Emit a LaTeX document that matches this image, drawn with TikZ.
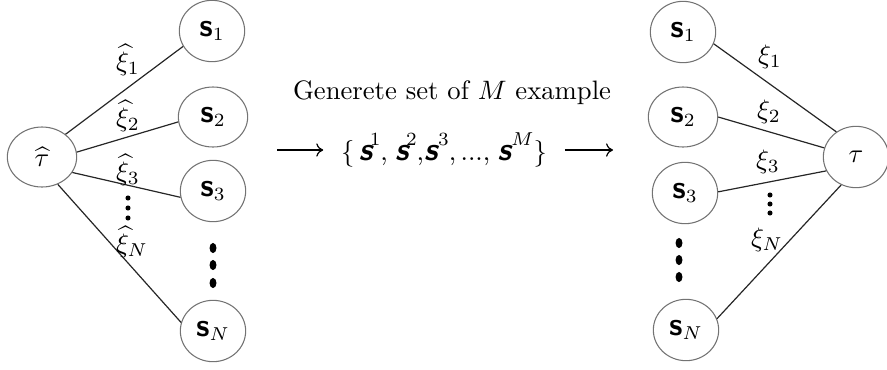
\documentclass[tikz,border=0pt]{standalone}
\usetikzlibrary{shapes.geometric,arrows.meta}
\newcommand{\sfs}{{\large\textsf{\textbf{s}}}}
\newcommand{\sfsi}{{\large\textsf{\bfseries\itshape s}}}
\newcommand{\ssup}[2]{\sfsi\kern#1\raisebox{5.6pt}{\scriptsize#2}}
\begin{document}
\begin{tikzpicture}[x=0.375pt,y=-0.375pt,
  st/.style={ellipse, draw=black!55, line width=0.4pt, minimum width=24.5pt, minimum height=23pt, inner sep=0pt},
  edge/.style={draw=black!85, line width=0.45pt},
  lbl/.style={inner sep=0pt},
  arr/.style={draw=black, line width=0.45pt, -{To[length=2.6pt,width=5pt]}},
  bigdot/.style={fill=black, x radius=1.3pt, y radius=1.9pt},
]
\useasboundingbox (0,0) rectangle (887,369);
% left side
\node[st, minimum width=26pt, minimum height=22.5pt] (th) at (42,157) {$\widehat\tau$};
\node[st] (a1) at (212,31) {\sfs$_1$};
\node[st, minimum width=26pt, minimum height=22.5pt] (a2) at (213,117) {\sfs$_2$};
\node[st] (a3) at (213,191) {\sfs$_3$};
\node[st] (aN) at (213,331) {\sfs$_N$};
\draw[edge] (th.44) -- (a1.208);
\draw[edge] (th.8) -- (a2.188);
\draw[edge] (th.-27) -- (a3.191);
\draw[edge] (th.-60) -- (aN.165);
\node[lbl] (lx1) at (128,60) {$\widehat\xi_1$};
\node[lbl] (lx2) at (128,116) {$\widehat\xi_2$};
\node[lbl] (lx3) at (128,170) {$\widehat\xi_3$};
\node[lbl] (lxN) at (132,242) {$\widehat\xi_N$};
\foreach \yy in {198,208,218} \fill (128,\yy) circle[radius=0.95pt];
\foreach \yy in {248,265,283} \fill[bigdot] (213,\yy) ellipse[];
% middle
\node[lbl] (title) at (452,93) {Generete set of $M$ example};
\node[inner xsep=6.5pt, inner ysep=0pt] (set) at (444,150)
  {$\{$\,\ssup{-1.6pt}{1},\;\ssup{-1.6pt}{2},\ssup{-0.4pt}{3},\,...,\;\ssup{-0.6pt}{$M$}$\}$};
\coordinate (l0) at (277,150);
\coordinate (r0) at (613,150);
\draw[arr] (l0) -- (set.west);
\draw[arr] (set.east) -- (r0);
% right side
\node[st] (tr) at (856,157) {$\tau$};
\node[st] (b1) at (683,32) {\sfs$_1$};
\node[st, minimum width=26pt, minimum height=22.5pt] (b2) at (683,117) {\sfs$_2$};
\node[st] (b3) at (685,193) {\sfs$_3$};
\node[st] (bN) at (686,330) {\sfs$_N$};
\draw[edge] (b1.-21) -- (tr.128);
\draw[edge] (b2.0) -- (tr.164);
\draw[edge] (b3.2) -- (tr.205);
\draw[edge] (bN.20) -- (tr.242);
\node[lbl] (rx1) at (770,57) {$\xi_1$};
\node[lbl] (rx2) at (769,112) {$\xi_2$};
\node[lbl] (rx3) at (768,162) {$\xi_3$};
\node[lbl] (rxN) at (767,240) {$\xi_N$};
\foreach \yy in {195,204,213} \fill (770,\yy) circle[radius=0.95pt];
\foreach \yy in {243,260,277} \fill[bigdot] (679,\yy) ellipse[];
\end{tikzpicture}
\end{document}
